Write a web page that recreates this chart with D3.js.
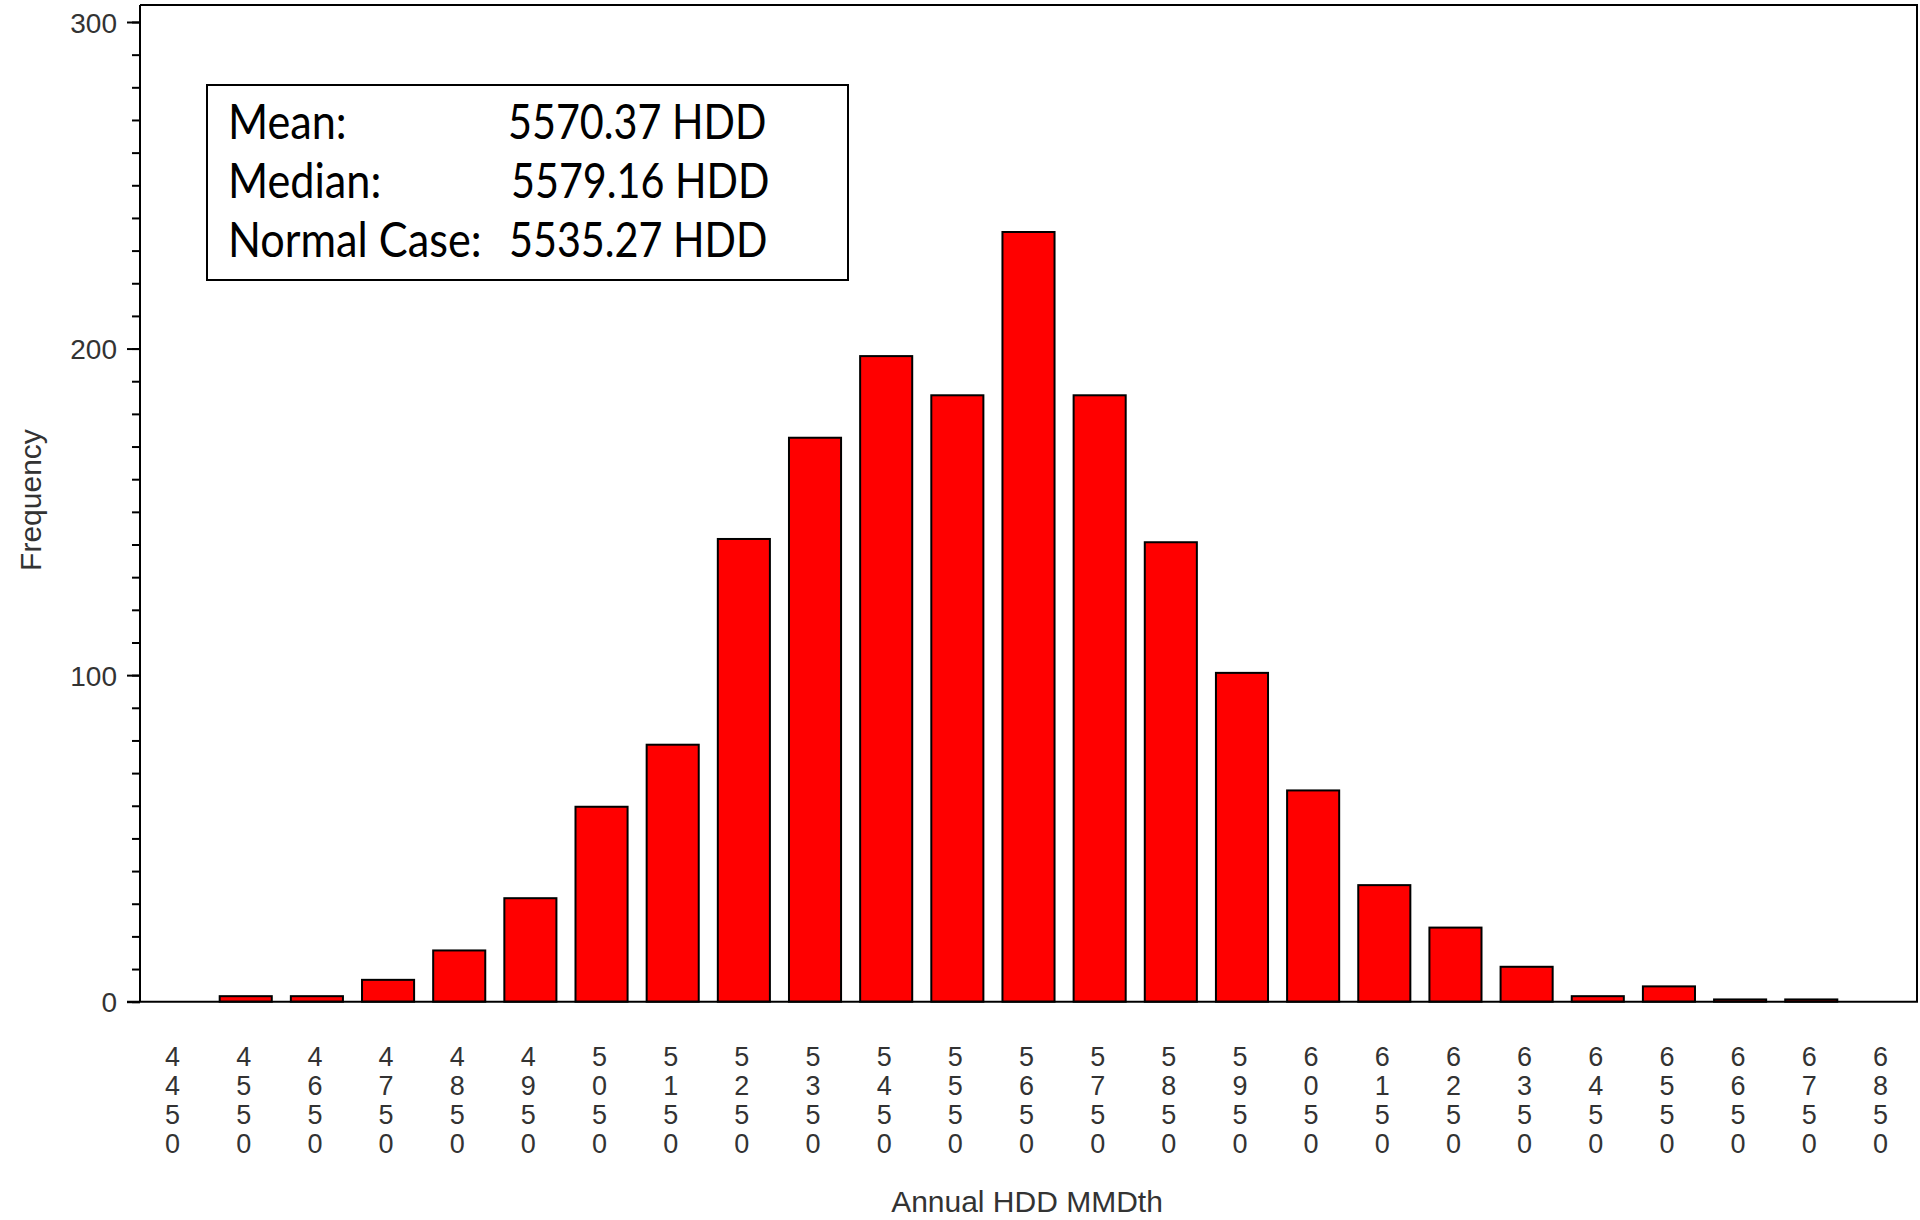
<!DOCTYPE html>
<html>
<head>
<meta charset="utf-8">
<script src="https://cdn.jsdelivr.net/npm/d3@7"></script>
<style>
  html, body { margin: 0; padding: 0; background: #fff; }
  svg { display: block; }
</style>
</head>
<body>
<svg id="chart" width="1920" height="1220"></svg>
<script>
// ---- Data ----
const categories = ["4450","4550","4650","4750","4850","4950","5050","5150","5250","5350","5450","5550","5650",
                    "5750","5850","5950","6050","6150","6250","6350","6450","6550","6650","6750","6850"];
const frequencies = [0,2,2,7,16,32,60,79,142,173,198,186,236,186,141,101,65,36,23,11,2,5,1,1,0];
const yMajorTicks = [0,100,200,300];
const yMinorTicks = d3.range(0, 301, 10);
const statLabels = ["Mean:", "Median:", "Normal Case:"];
const statValues = ["5570.37 HDD", "5579.16 HDD", "5535.27 HDD"];
const xTitle = "Annual HDD MMDth";
const yTitle = "Frequency";

(function draw() {
  const svg = d3.select("#chart");
  const plotLeft = 140, plotRight = 1917, plotTop = 5, base = 1001.7;
  const x = d3.scaleBand().domain(categories).range([139, 1918]);
  const y = d3.scaleLinear().domain([0, 300]).range([base, 22]);
  const tickFont = "'Liberation Sans', Arial, sans-serif";
  const textCol = "#333";

  // bars
  const barW = x.step() * 0.76;
  svg.append("g").selectAll("rect")
    .data(categories.map((c, i) => ({c, v: frequencies[i]})).filter(d => d.v > 0))
    .join("rect")
    .attr("x", d => x(d.c) + x.bandwidth() / 2 - barW / 2 + 1)
    .attr("width", barW - 2)
    .attr("y", d => y(d.v) + 1)
    .attr("height", d => Math.max(0, base - y(d.v) - 1))
    .attr("fill", "#ff0000")
    .attr("stroke", "#000")
    .attr("stroke-width", 2);

  // y axis minor ticks
  const yMinor = svg.append("g").attr("transform", `translate(${plotLeft},0)`)
    .call(d3.axisLeft(y).tickValues(yMinorTicks).tickSize(8).tickFormat(""));
  yMinor.select(".domain").remove();
  yMinor.selectAll("line").attr("stroke", "#000").attr("stroke-width", 2);

  // y axis major ticks
  const yMajor = svg.append("g").attr("transform", `translate(${plotLeft},0)`)
    .call(d3.axisLeft(y).tickValues(yMajorTicks).tickSize(13).tickPadding(10).tickFormat(d3.format("d")));
  yMajor.select(".domain").remove();
  yMajor.selectAll("line").attr("stroke", "#000").attr("stroke-width", 2);
  yMajor.selectAll("text")
    .attr("font-family", tickFont).attr("font-size", 28).attr("fill", textCol)
    .attr("dy", "0.36em");

  // x axis labels (vertically stacked digits)
  const xAx = svg.append("g").attr("transform", `translate(-2,${base})`)
    .call(d3.axisBottom(x).tickSize(0).tickFormat(""));
  xAx.select(".domain").remove();
  xAx.selectAll(".tick").each(function(d) {
    const t = d3.select(this).append("text")
      .attr("font-family", tickFont).attr("font-size", 27).attr("fill", textCol)
      .attr("text-anchor", "middle");
    d.split("").forEach((ch, i) => {
      t.append("tspan").attr("x", 0).attr("y", 64 + i * 29).text(ch);
    });
  });

  // frame
  const frame = svg.append("g").attr("stroke", "#000").attr("stroke-width", 2).attr("fill", "none");
  frame.append("line").attr("x1", plotLeft).attr("x2", plotRight + 1).attr("y1", plotTop).attr("y2", plotTop);
  frame.append("line").attr("x1", plotLeft).attr("x2", plotLeft).attr("y1", plotTop).attr("y2", base);
  frame.append("line").attr("x1", plotRight).attr("x2", plotRight).attr("y1", plotTop).attr("y2", base);
  frame.append("line").attr("x1", 127).attr("x2", plotRight + 1).attr("y1", base).attr("y2", base);

  // axis titles
  svg.append("text").attr("x", 1027).attr("y", 1212).attr("text-anchor", "middle")
    .attr("font-family", tickFont).attr("font-size", 30).attr("fill", textCol).text(xTitle);
  svg.append("text").attr("transform", "translate(41,500) rotate(-90)").attr("text-anchor", "middle")
    .attr("font-family", tickFont).attr("font-size", 30).attr("fill", textCol).text(yTitle);

  // stats box
  svg.append("rect").attr("x", 207).attr("y", 85).attr("width", 641).attr("height", 195)
    .attr("fill", "#fff").attr("stroke", "#000").attr("stroke-width", 2);
  const rowY = [139, 198, 257];
  const valX = [508, 511, 509];
  const statFont = "Lato, 'Open Sans', sans-serif";
  statLabels.forEach((lab, i) => {
    svg.append("text").attr("transform", `translate(228,${rowY[i]}) scale(0.91,1)`)
      .attr("font-family", statFont).attr("font-size", 47.5).attr("fill", "#000").text(lab);
    svg.append("text").attr("transform", `translate(${valX[i]},${rowY[i]}) scale(0.87,1)`)
      .attr("font-family", statFont).attr("font-size", 47.5).attr("fill", "#000").text(statValues[i]);
  });
})();
</script>
</body>
</html>
